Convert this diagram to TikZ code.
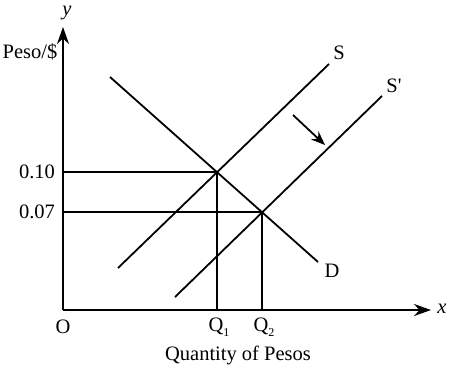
\documentclass[tikz,border=0pt]{standalone}
\usepackage{fontspec}
\setmainfont{Liberation Serif}
\usetikzlibrary{arrows.meta}
\begin{document}
\begin{tikzpicture}[x=1pt,y=-1pt,
  lbl/.style={font=\fontsize{20.5}{22}\selectfont, inner sep=0pt},
  axis/.style={line width=1.8pt,-{Stealth[length=17pt,width=12pt]}},
  curve/.style={line width=1.8pt},
  guide/.style={line width=1.6pt}]
\useasboundingbox (0,0) rectangle (450,372);
% points
\coordinate (O) at (63,310);
\coordinate (ytip) at (63,27);
\coordinate (xtip) at (431,310);
\coordinate (E1) at (217,172);
\coordinate (E2) at (262,212);
\coordinate (p10) at (63,172);
\coordinate (p07) at (63,212);
\coordinate (q1) at (217,310);
\coordinate (q2) at (262,310);
\coordinate (Sa) at (118,268);
\coordinate (Sb) at (329,64);
\coordinate (Spa) at (175,297);
\coordinate (Spb) at (382,96);
\coordinate (Da) at (110,77);
\coordinate (Db) at (318,262);
\coordinate (ar1) at (293,115);
\coordinate (ar2) at (325,145);
% axes
\draw[axis] (O) -- (ytip);
\draw[axis] (O) -- (xtip);
% guides
\draw[guide] (p10) -- (E1) -- (q1);
\draw[guide] (p07) -- (E2) -- (q2);
% curves
\draw[curve] (Sa) -- (Sb);
\draw[curve] (Spa) -- (Spb);
\draw[curve] (Da) -- (Db);
\draw[line width=1.8pt,-{Stealth[length=14pt,width=11pt]}] (ar1) -- (ar2);
% labels
\node[lbl] (ylab) at (67,13) {\itshape y};
\node[lbl] (xlab) at (442,309) {\itshape x};
\node[lbl] (peso) at (30,52) {Peso/\$};
\node[lbl] (l10) at (37,172) {0.10};
\node[lbl] (l07) at (37,212) {0.07};
\node[lbl] (olab) at (63,327) {O};
\node[lbl] (Q1) at (219,327) {Q\raisebox{-0.5ex}{\fontsize{12}{12}\selectfont 1}};
\node[lbl] (Q2) at (264,327) {Q\raisebox{-0.5ex}{\fontsize{12}{12}\selectfont 2}};
\node[lbl] (qp) at (238,355) {Quantity of Pesos};
\node[lbl] (Slab) at (339,53) {S};
\node[lbl] (Splab) at (394,86) {S\textquotesingle};
\node[lbl] (Dlab) at (332,271) {D};
\end{tikzpicture}
\end{document}
